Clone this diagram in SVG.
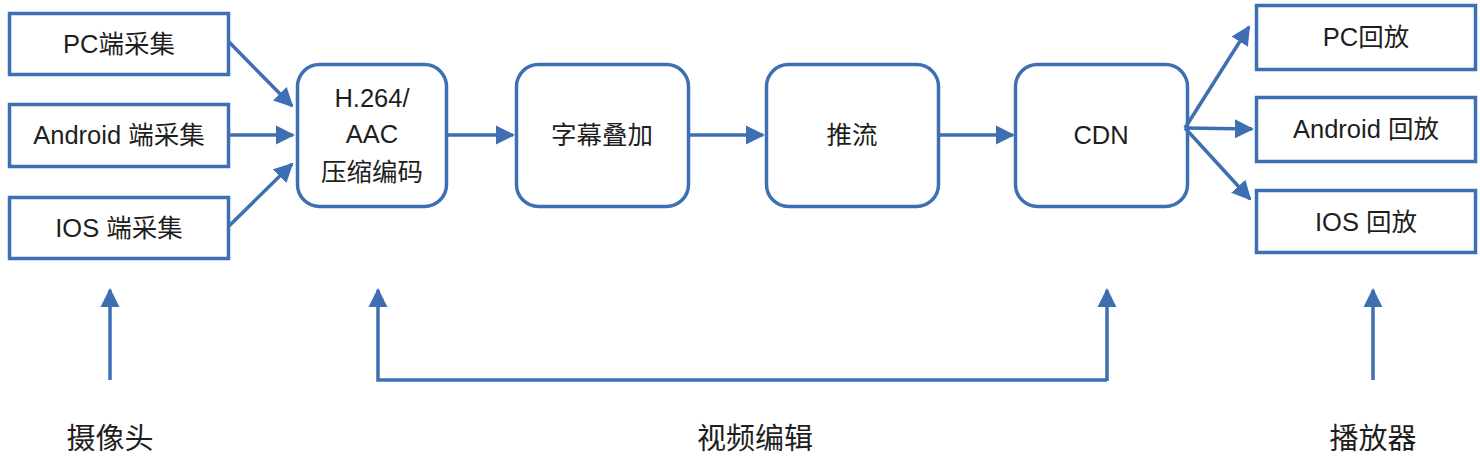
<svg xmlns="http://www.w3.org/2000/svg" width="1480" height="456" viewBox="0 0 1480 456">
<style>
.box{fill:#fff;stroke:#3d6fb2;stroke-width:3.5}
.t{font-family:"Liberation Sans","Noto Sans CJK SC",sans-serif;font-size:25.5px;fill:#1e1e1e;text-anchor:middle}
.lb{font-family:"Liberation Sans","Noto Sans CJK SC",sans-serif;font-size:29px;fill:#1e1e1e;text-anchor:middle}
.c{fill:none;stroke:#3d6fb2;stroke-width:3.5}
</style>
<defs>
<marker id="ah" viewBox="0 0 10 10" refX="9" refY="5" markerWidth="5.5" markerHeight="5.5" orient="auto" markerUnits="strokeWidth">
<path d="M0,0 L10,5 L0,10 z" fill="#3d6fb2"/>
</marker>
</defs>
<rect width="1480" height="456" fill="#fff"/>
<g id="pc-cap"><rect class="box" x="9.5" y="13.5" width="219" height="61"/><text class="t" x="119" y="53">PC端采集</text></g>
<g id="android-cap"><rect class="box" x="9.5" y="104.5" width="219" height="62"/><text class="t" x="119" y="144">Android 端采集</text></g>
<g id="ios-cap"><rect class="box" x="9.5" y="197.5" width="219" height="61"/><text class="t" x="119" y="237">IOS 端采集</text></g>
<g id="encode"><rect class="box" x="297.5" y="64.5" width="149" height="142" rx="22"/><text class="t" x="372" y="107">H.264/</text><text class="t" x="372" y="143">AAC</text><text class="t" x="372" y="181">压缩编码</text></g>
<g id="subtitle"><rect class="box" x="516.5" y="64.5" width="172" height="142" rx="22"/><text class="t" x="602" y="144">字幕叠加</text></g>
<g id="push"><rect class="box" x="766.5" y="64.5" width="172" height="142" rx="22"/><text class="t" x="852" y="144">推流</text></g>
<g id="cdn"><rect class="box" x="1015.5" y="64.5" width="172" height="142" rx="22"/><text class="t" x="1101" y="144">CDN</text></g>
<g id="pc-play"><rect class="box" x="1256.5" y="5.5" width="219" height="64"/><text class="t" x="1366" y="46">PC回放</text></g>
<g id="android-play"><rect class="box" x="1256.5" y="97.5" width="219" height="64"/><text class="t" x="1366" y="138">Android 回放</text></g>
<g id="ios-play"><rect class="box" x="1256.5" y="190.5" width="219" height="62"/><text class="t" x="1366" y="231">IOS 回放</text></g>
<g id="camera"><text class="lb" x="110" y="449">摄像头</text></g>
<g id="video-edit"><text class="lb" x="755" y="449">视频编辑</text></g>
<g id="player"><text class="lb" x="1373" y="449">播放器</text></g>
<g id="connectors">
<line class="c" x1="229" y1="42" x2="292" y2="106" marker-end="url(#ah)"/>
<line class="c" x1="229" y1="135" x2="293" y2="135" marker-end="url(#ah)"/>
<line class="c" x1="229" y1="226" x2="292" y2="164" marker-end="url(#ah)"/>
<line class="c" x1="447" y1="135" x2="513" y2="135" marker-end="url(#ah)"/>
<line class="c" x1="689" y1="135" x2="763" y2="135" marker-end="url(#ah)"/>
<line class="c" x1="939" y1="135" x2="1013" y2="135" marker-end="url(#ah)"/>
<line class="c" x1="1185" y1="128" x2="1249" y2="27" marker-end="url(#ah)"/>
<line class="c" x1="1185" y1="128" x2="1252" y2="129" marker-end="url(#ah)"/>
<line class="c" x1="1185" y1="128" x2="1250" y2="199" marker-end="url(#ah)"/>
<line class="c" x1="110" y1="380" x2="110" y2="290" marker-end="url(#ah)"/>
<polyline class="c" points="1107,380 378,380 378,290" marker-end="url(#ah)"/>
<line class="c" x1="1107" y1="381" x2="1107" y2="290" marker-end="url(#ah)"/>
<line class="c" x1="1373" y1="380" x2="1373" y2="290" marker-end="url(#ah)"/>
</g>
</svg>
